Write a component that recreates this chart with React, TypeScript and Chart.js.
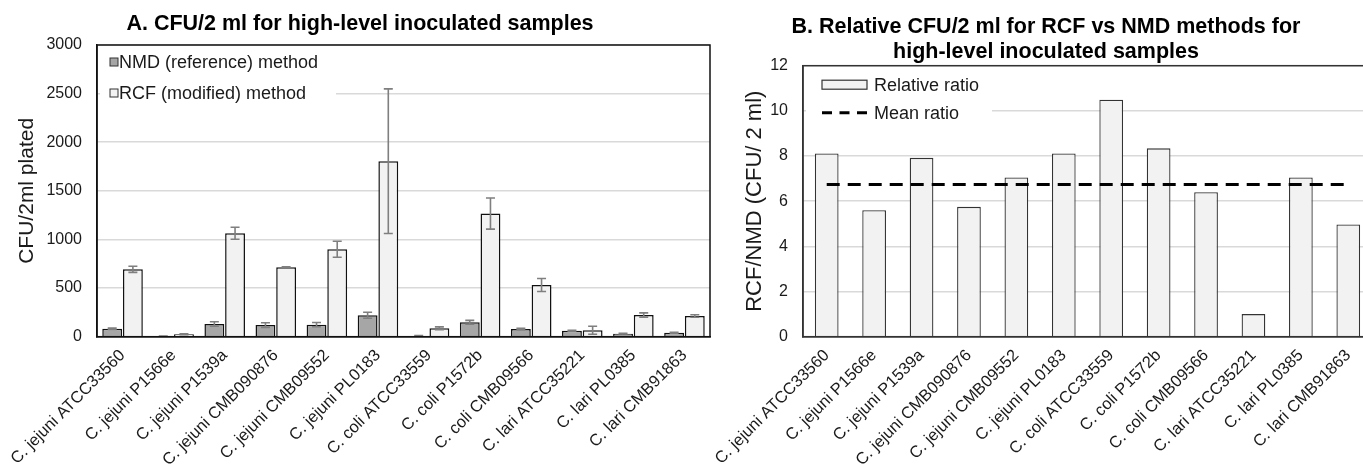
import React, { useEffect, useRef } from "react";
import { Chart, registerables } from "chart.js";
Chart.register(...registerables);

const FONT = "'Liberation Sans', Arial, Helvetica, sans-serif";
const TEXT = "#1a1a1a";

const categories = [
  "C. jejuni ATCC33560",
  "C. jejuni P1566e",
  "C. jejuni P1539a",
  "C. jejuni CMB090876",
  "C. jejuni CMB09552",
  "C. jejuni PL0183",
  "C. coli ATCC33559",
  "C. coli P1572b",
  "C. coli CMB09566",
  "C. lari ATCC35221",
  "C. lari PL0385",
  "C. lari CMB91863",
];
const nmdValues = [82, 4.5, 131, 120, 124, 220, 8, 148, 79, 62, 31, 41];
const nmdErrors = [8, 2, 23, 24, 22, 31, 3, 20, 8, 5, 4, 4];
const rcfValues = [693, 25, 1064, 714, 899, 1805, 86, 1266, 532, 66, 223, 213];
const rcfErrors = [31, 4, 62, 5, 82, 744, 15, 160, 67, 41, 22, 13];
const ratioValues = [8.11, 5.6, 7.92, 5.75, 7.05, 8.11, 10.49, 8.34, 6.4, 1.0, 7.05, 4.97];
const meanRatio = [6.74, 6.74, 6.74, 6.74, 6.74, 6.74, 6.74, 6.74, 6.74, 6.74, 6.74, 6.74];

const leftLegend = ["NMD (reference) method", "RCF (modified) method"];
const rightLegend = ["Relative ratio", "Mean ratio"];
const leftTitle = ["A. CFU/2 ml for high-level inoculated samples"];
const rightTitle = ["B. Relative CFU/2 ml for RCF vs NMD methods for", "high-level inoculated samples"];
const leftAxisTitle = "CFU/2ml plated";
const rightAxisTitle = "RCF/NMD (CFU/ 2 ml)";

const errorBarPlugin = {
  id: "errorBars",
  afterDatasetsDraw(chart: any) {
    const ctx = chart.ctx;
    const y = chart.scales.y;
    chart.data.datasets.forEach((ds: any, i: number) => {
      if (!ds.errors) return;
      const meta = chart.getDatasetMeta(i);
      meta.data.forEach((bar: any, j: number) => {
        const v = ds.data[j];
        const e = ds.errors[j];
        const x = bar.x;
        const yt = y.getPixelForValue(v + e);
        const yb = y.getPixelForValue(Math.max(v - e, 0));
        ctx.save();
        ctx.strokeStyle = "#7f7f7f";
        ctx.lineWidth = 1.6;
        ctx.beginPath();
        ctx.moveTo(x, yt);
        ctx.lineTo(x, yb);
        ctx.moveTo(x - 4.5, yt);
        ctx.lineTo(x + 4.5, yt);
        ctx.moveTo(x - 4.5, yb);
        ctx.lineTo(x + 4.5, yb);
        ctx.stroke();
        ctx.restore();
      });
    });
  },
};

function boxPlugin(color: string, width: number) {
  return {
    id: "box",
    afterDatasetsDraw(chart: any) {
      const { ctx, chartArea: a } = chart;
      ctx.save();
      ctx.strokeStyle = color;
      ctx.lineWidth = width;
      ctx.strokeRect(a.left, a.top, a.right - a.left, a.bottom - a.top);
      ctx.restore();
    },
  };
}

function titlePlugin(lines: string[], cx: number, baselines: number[], size: number) {
  return {
    id: "titleText",
    afterDraw(chart: any) {
      const ctx = chart.ctx;
      ctx.save();
      ctx.font = `bold ${size}px ${FONT}`;
      ctx.fillStyle = "#000";
      ctx.textAlign = "center";
      ctx.textBaseline = "alphabetic";
      lines.forEach((l, i) => ctx.fillText(l, cx, baselines[i]));
      ctx.restore();
    },
  };
}

const leftLegendPlugin = {
  id: "leftLegend",
  beforeDatasetsDraw(chart: any) {
    const { ctx, chartArea: a } = chart;
    ctx.save();
    ctx.fillStyle = "#fff";
    ctx.fillRect(a.left + 3, a.top + 3, 236, 63);
    ctx.font = `18px ${FONT}`;
    ctx.textBaseline = "middle";
    ctx.textAlign = "left";
    const fills = ["#a6a6a6", "#f2f2f2"];
    leftLegend.forEach((t, i) => {
      const cy = a.top + 17 + i * 31;
      ctx.fillStyle = fills[i];
      ctx.fillRect(a.left + 13, cy - 4, 8, 8);
      ctx.strokeStyle = "#333";
      ctx.lineWidth = 1;
      ctx.strokeRect(a.left + 13, cy - 4, 8, 8);
      ctx.fillStyle = TEXT;
      ctx.fillText(t, a.left + 22, cy + 1);
    });
    ctx.restore();
  },
};

const rightLegendPlugin = {
  id: "rightLegend",
  beforeDatasetsDraw(chart: any) {
    const { ctx, chartArea: a } = chart;
    ctx.save();
    ctx.fillStyle = "#fff";
    ctx.fillRect(a.left + 3, a.top + 3, 186, 58);
    ctx.font = `18px ${FONT}`;
    ctx.textBaseline = "middle";
    ctx.textAlign = "left";
    const x0 = a.left + 19;
    let cy = a.top + 19;
    ctx.fillStyle = "#f2f2f2";
    ctx.fillRect(x0, cy - 4.5, 45, 9);
    ctx.strokeStyle = "#333";
    ctx.lineWidth = 1.2;
    ctx.strokeRect(x0, cy - 4.5, 45, 9);
    ctx.fillStyle = TEXT;
    ctx.fillText(rightLegend[0], x0 + 52, cy + 1);
    cy = a.top + 47;
    ctx.strokeStyle = "#000";
    ctx.lineWidth = 3;
    ctx.setLineDash([10, 7.5]);
    ctx.beginPath();
    ctx.moveTo(x0, cy);
    ctx.lineTo(x0 + 45, cy);
    ctx.stroke();
    ctx.setLineDash([]);
    ctx.fillText(rightLegend[1], x0 + 52, cy + 1);
    ctx.restore();
  },
};

const plainTick = (v: any) => String(v);

function xScale(fontSize: number, borderColor: string) {
  return {
    type: "category" as const,
    grid: { display: false, drawTicks: false },
    border: { color: borderColor, width: 1.5 },
    ticks: {
      color: TEXT,
      font: { family: FONT, size: fontSize },
      maxRotation: 45,
      minRotation: 45,
      autoSkip: false,
      padding: 9,
    },
    afterFit(scale: any) {
      scale.height = 129.3;
      scale.paddingLeft = 0;
      scale.paddingRight = 0;
    },
  };
}

const RIGHT_LEFT = 690;
const RIGHT_WIDTH = 682;

export default function App() {
  const leftRef = useRef<HTMLCanvasElement>(null);
  const rightRef = useRef<HTMLCanvasElement>(null);

  useEffect(() => {
    const left = new Chart(leftRef.current!, {
      type: "bar",
      data: {
        labels: categories,
        datasets: [
          {
            label: leftLegend[0],
            data: nmdValues,
            errors: nmdErrors,
            backgroundColor: "#a6a6a6",
            borderColor: "#111",
            borderWidth: 1.5,
            categoryPercentage: 0.81,
            barPercentage: 0.96,
          } as any,
          {
            label: leftLegend[1],
            data: rcfValues,
            errors: rcfErrors,
            backgroundColor: "#f2f2f2",
            borderColor: "#111",
            borderWidth: 1.5,
            categoryPercentage: 0.81,
            barPercentage: 0.96,
          } as any,
        ],
      },
      options: {
        responsive: false,
        animation: false,
        layout: { padding: { left: 0, right: 10, top: 45, bottom: 0 } },
        plugins: { legend: { display: false }, tooltip: { enabled: false }, title: { display: false } },
        scales: {
          x: xScale(16.5, "#111"),
          y: {
            min: 0,
            max: 3000,
            ticks: { stepSize: 500, color: TEXT, font: { family: FONT, size: 16 }, padding: 15, callback: plainTick },
            grid: { color: "#d9d9d9", lineWidth: 1.5, drawTicks: false },
            border: { color: "#111", width: 1.5 },
            title: {
              display: true,
              text: leftAxisTitle,
              color: TEXT,
              font: { family: FONT, size: 21 },
              padding: { top: 15, bottom: 0 },
            },
            afterFit(scale: any) {
              scale.width = 97;
            },
          },
        },
      },
      plugins: [leftLegendPlugin, errorBarPlugin, boxPlugin("#111", 1.5), titlePlugin(leftTitle, 360, [30], 21.5)],
    });

    const right = new Chart(rightRef.current!, {
      type: "bar",
      data: {
        labels: categories,
        datasets: [
          {
            type: "line",
            label: rightLegend[1],
            data: meanRatio,
            borderColor: "#000",
            borderWidth: 3,
            borderDash: [13, 8],
            pointRadius: 0,
            fill: false,
            order: 1,
          } as any,
          {
            type: "bar",
            label: rightLegend[0],
            data: ratioValues,
            backgroundColor: "#f2f2f2",
            borderColor: "#333",
            borderWidth: 1.3,
            categoryPercentage: 1,
            barPercentage: 0.5,
            order: 2,
          } as any,
        ],
      },
      options: {
        responsive: false,
        animation: false,
        layout: { padding: { left: 0, right: 0, top: 65.7, bottom: 0 } },
        plugins: { legend: { display: false }, tooltip: { enabled: false }, title: { display: false } },
        scales: {
          x: xScale(16.5, "#333"),
          y: {
            min: 0,
            max: 12,
            ticks: { stepSize: 2, color: TEXT, font: { family: FONT, size: 16 }, padding: 15, callback: plainTick },
            grid: { color: "#d9d9d9", lineWidth: 1.5, drawTicks: false },
            border: { color: "#333", width: 1.5 },
            title: {
              display: true,
              text: rightAxisTitle,
              color: TEXT,
              font: { family: FONT, size: 22 },
              padding: { top: 52, bottom: 0 },
            },
            afterFit(scale: any) {
              scale.width = 113;
            },
          },
        },
      },
      plugins: [rightLegendPlugin, boxPlugin("#333", 1.5), titlePlugin(rightTitle, 1046 - RIGHT_LEFT, [33, 58], 21.5)],
    });

    return () => {
      left.destroy();
      right.destroy();
    };
  }, []);

  return (
    <div
      style={{
        position: "fixed",
        left: 0,
        top: 0,
        width: 1363,
        height: 466,
        overflow: "hidden",
        background: "#fff",
      }}
    >
      <canvas
        ref={leftRef}
        width={720}
        height={466}
        style={{ position: "absolute", left: 0, top: 0, width: 720, height: 466 }}
      />
      <canvas
        ref={rightRef}
        width={RIGHT_WIDTH}
        height={466}
        style={{ position: "absolute", left: RIGHT_LEFT, top: 0, width: RIGHT_WIDTH, height: 466 }}
      />
    </div>
  );
}
